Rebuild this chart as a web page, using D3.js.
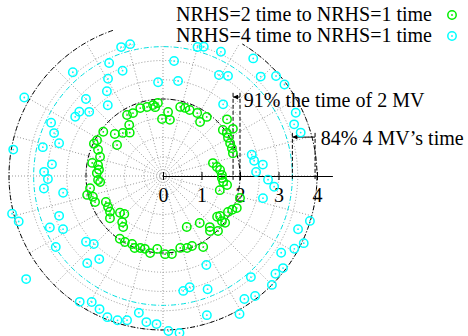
<!DOCTYPE html>
<html>
<head>
<meta charset="utf-8">
<script src="https://cdn.jsdelivr.net/npm/d3@7"></script>
<style>
  body { margin: 0; background: #fff; }
  svg { display: block; font-family: "Liberation Serif", "Times New Roman", Times, serif; }
</style>
</head>
<body>
<div id="chart"></div>
<script>
// [angle in degrees, time ratio]
const nrhs2 = [
  [120.5,1.84],[115.5,1.81],[108.5,1.86],[103,1.84],[98,1.86],[94,1.90],[96.5,1.80],[85.5,1.67],
  [76,1.85],[72,1.86],[68,1.85],[61.5,1.86],[83,1.47],[53.5,1.91],[41.5,2.22],[91,1.48],
  [143.5,1.93],[139,1.66],[133,1.53],[127.5,1.42],[123.5,1.59],[146,1.44],[151.5,1.95],[155,1.98],
  [158,1.82],[163,1.71],[169.5,1.87],[170.5,1.71],[174.5,1.67],[177.5,1.72],[183.5,1.69],[185.5,1.64],
  [189.5,1.92],[194,2.03],[196.5,1.90],[201,1.89],[204.5,1.63],[209.5,1.64],[214,1.66],[220.5,1.47],
  [224.5,1.41],[228.5,1.60],[232,1.68],[218.5,1.76],[235.5,1.98],[240,1.98],[245.5,1.94],[248.5,2.01],
  [252.5,1.96],[256,1.95],[260.5,2.03],[265.5,1.90],[271.5,2.03],[276.5,2.04],[283.5,1.92],[288.5,1.97],
  [292.5,1.97],[299.5,2.12],[310.5,1.88],[315,2.02],[322.5,1.93],[323,2.02],[325,1.81],[295,1.46],
  [308,1.55],[323,1.76],[312.5,1.80],[331,1.93],[334,2.00],[336.5,2.09],[344,2.08],[346,1.52],
  [352,1.68],[354.5,1.57],[358,1.53],[1,1.53],[6,1.49],[9.5,1.42],[14.5,1.34],[18,1.91],
  [22,1.93],[26,1.94],[30.5,1.96],[34,2.00],[37.5,1.96],[34,2.19],[55.5,1.70]
];
const nrhs4 = [
  [108,3.52],[104,3.53],[115.5,3.25],[131,3.57],[111,2.93],[119.5,2.90],[123.5,2.64],[93,2.44],
  [135,2.83],[150.5,4.14],[128,2.33],[142.5,2.74],[139,2.54],[146,2.75],[154.5,3.22],[158.5,3.04],
  [162.5,2.83],[166.5,3.21],[170,3.95],[174,2.90],[178,3.09],[181.5,2.99],[186,3.11],[189.5,2.63],
  [194,4.04],[197.5,3.93],[201,2.89],[204.5,3.23],[208,2.94],[213.5,3.34],[220.5,2.63],[224.5,2.52],
  [229,3.0],[232.5,2.72],[217,4.45],[236.5,3.92],[240.5,3.76],[244.5,3.83],[248.5,3.94],[252.5,3.93],
  [256,3.86],[260,3.61],[263.5,3.82],[267.5,3.85],[272,4.03],[276,4.10],[296,2.57],[280,3.03],
  [283.5,2.97],[291.5,3.16],[311,3.48],[287.5,3.79],[299,4.10],[303.5,3.83],[307.5,3.93],[315,4.0],
  [319,3.87],[322.5,3.93],[327,3.66],[331,3.90],[334.5,4.05],[338.5,3.77],[343,3.99],[25.5,3.82],
  [21.5,3.66],[17.5,3.75],[13.5,2.37],[9.5,2.40],[6.5,2.61],[2.5,2.42],[358,2.73],[354.5,2.90],
  [347.5,2.66],[75,3.47],[72.5,3.52],[65,3.56],[52.5,3.85],[84.5,3.0],[81,2.50],[61,3.0],
  [57,3.10],[45.5,3.62],[41.5,3.92],[37,3.95],[50,2.43]
];
const seriesNames = ['NRHS=2 time to NRHS=1 time', 'NRHS=4 time to NRHS=1 time'];
const seriesColors = ['#00ee00', '#00ffff'];
const rTicks = [0, 1, 2, 3, 4];
// reference radii: 2 MV, 4 MV and the measured fractions of them
const mv2 = 2, mv4 = 4, frac2 = 0.91, frac4 = 0.84;
const notes = ['91% the time of 2 MV', '84% 4 MV\u2019s time'];

const width = 468, height = 336;
const svg = d3.select('#chart').append('svg')
  .attr('width', width).attr('height', height);

// same unit on both axes
const x = d3.scaleLinear().domain([0, 4.4]).range([163, 163 + 4.4 * 38.5]);
const y = d3.scaleLinear().domain([0, 4]).range([176, 176 - 4 * 38.5]);
const rad = d3.scaleLinear().domain([0, 4]).range([0, 4 * 38.5]);
const px = d => x(d[1] * Math.cos(d[0] * Math.PI / 180));
const py = d => y(d[1] * Math.sin(d[0] * Math.PI / 180));
const ring = d3.line().x(px).y(py);

svg.append('clipPath').attr('id', 'plotclip')
  .append('rect').attr('x', 0).attr('y', 44).attr('width', width).attr('height', height - 44);

const grid = svg.append('g').attr('clip-path', 'url(#plotclip)');
grid.selectAll('.ring')
  .data(d3.range(0.5, 4.01, 0.5))
  .enter().append('circle')
    .attr('cx', x(0)).attr('cy', y(0)).attr('r', d => rad(d))
    .attr('fill', 'none').attr('stroke', '#999').attr('stroke-width', 1)
    .attr('stroke-dasharray', '1,2');
grid.selectAll('.spoke')
  .data(d3.range(0, 360, 15))
  .enter().append('line')
    .attr('x1', x(0)).attr('y1', y(0))
    .attr('x2', d => px([d, 4])).attr('y2', d => py([d, 4]))
    .attr('stroke', '#999').attr('stroke-width', 1)
    .attr('stroke-dasharray', '1,2');

// reference circles
svg.append('circle')
  .attr('cx', x(0)).attr('cy', y(0)).attr('r', rad(mv2))
  .attr('fill', 'none').attr('stroke', '#000').attr('stroke-width', 1)
  .attr('stroke-dasharray', '5,2,1,2');
svg.append('circle')
  .attr('cx', x(0)).attr('cy', y(0)).attr('r', rad(mv4 * frac4))
  .attr('fill', 'none').attr('stroke', '#00e0e0').attr('stroke-width', 1)
  .attr('stroke-dasharray', '5,2,1,2');
// outer circle, broken at the top of the plot
svg.append('path')
  .attr('d', ring(d3.range(109, 420, 1).map(a => [a, mv4])))
  .attr('fill', 'none').attr('stroke', '#000').attr('stroke-width', 1)
  .attr('stroke-dasharray', '5,2,1,2');

// radial axis
const axis = svg.append('g')
  .attr('transform', `translate(0,${y(0)})`)
  .call(d3.axisBottom(x).tickValues(rTicks).tickSizeInner(4).tickSizeOuter(0).tickPadding(8).tickFormat(d3.format('d')));
axis.attr('font-family', null);
axis.select('.domain').attr('stroke', '#000').attr('stroke-width', 1);
axis.selectAll('.tick line').attr('y1', -4).attr('stroke', '#000');
axis.selectAll('.tick text').attr('font-size', 20).attr('fill', '#000');

// dimension marks
svg.append('defs').append('marker')
  .attr('id', 'head').attr('viewBox', '0 0 10 10').attr('refX', 10).attr('refY', 5)
  .attr('markerWidth', 7).attr('markerHeight', 5).attr('orient', 'auto')
  .append('path').attr('d', 'M0,0L10,5L0,10Z').attr('fill', '#000');

const dims = [
  {lo: mv2 * frac2, hi: mv2, top: 2.16, ay: 2.05, tx: 2.1, ty: 1.79, text: notes[0]},
  {lo: mv4 * frac4, hi: mv4 - 0.05, top: 1.12, ay: 1.01, tx: 4.1, ty: 0.8, text: notes[1]}
];
dims.forEach(d => {
  [d.lo, d.hi].forEach(v => {
    svg.append('line')
      .attr('x1', x(v)).attr('x2', x(v)).attr('y1', y(d.top)).attr('y2', y(-0.1))
      .attr('stroke', '#000').attr('stroke-width', 1).attr('stroke-dasharray', '4,2');
  });
  svg.append('line')
    .attr('x1', x(d.hi)).attr('x2', x(d.lo)).attr('y1', y(d.ay)).attr('y2', y(d.ay))
    .attr('stroke', '#000').attr('stroke-width', 1).attr('marker-end', 'url(#head)');
  svg.append('text')
    .attr('x', x(d.tx)).attr('y', y(d.ty))
    .attr('font-size', 20).attr('fill', '#000')
    .text(d.text);
});

function drawPoints(g, data, color) {
  const pts = g.selectAll('g.pt').data(data).enter().append('g').attr('class', 'pt');
  pts.append('circle')
    .attr('cx', px).attr('cy', py).attr('r', 4.2)
    .attr('fill', 'none').attr('stroke', color).attr('stroke-width', 1.5);
  pts.append('circle')
    .attr('cx', px).attr('cy', py).attr('r', 0.9)
    .attr('fill', color);
}
drawPoints(svg.append('g'), nrhs2, seriesColors[0]);
drawPoints(svg.append('g'), nrhs4, seriesColors[1]);

// legend
const legend = svg.append('g');
seriesNames.forEach((name, i) => {
  const ly = 15 + i * 21;
  legend.append('text')
    .attr('x', 432).attr('y', ly + 6)
    .attr('text-anchor', 'end').attr('font-size', 20).attr('fill', '#000')
    .text(name);
  legend.append('circle')
    .attr('cx', 452).attr('cy', ly).attr('r', 4.2)
    .attr('fill', 'none').attr('stroke', seriesColors[i]).attr('stroke-width', 1.5);
  legend.append('circle')
    .attr('cx', 452).attr('cy', ly).attr('r', 0.9).attr('fill', seriesColors[i]);
});
</script>
</body>
</html>
